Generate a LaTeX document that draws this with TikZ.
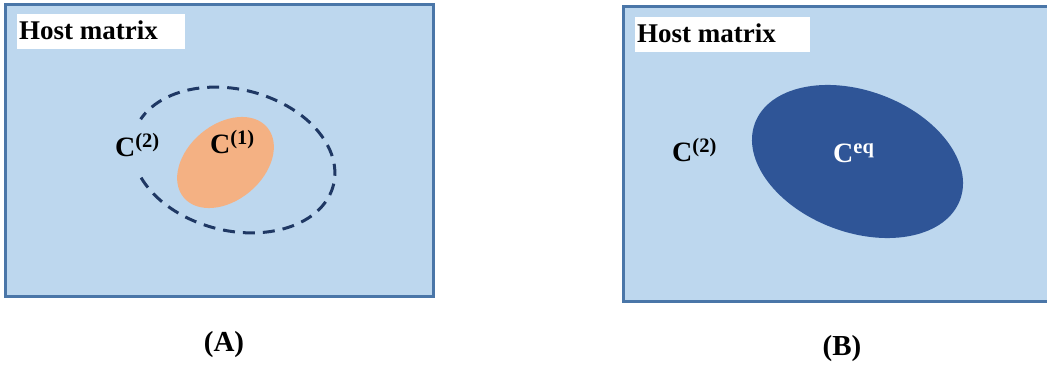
\documentclass[tikz,border=0pt]{standalone}
\usepackage{fontspec}
\setmainfont{Liberation Serif}
\definecolor{panelfill}{RGB}{189,215,238}
\definecolor{panelborder}{RGB}{74,118,168}
\definecolor{incl}{RGB}{244,177,131}
\definecolor{eqblue}{RGB}{47,85,151}
\definecolor{dashnavy}{RGB}{31,56,100}
\newcommand\csuplabel[1]{{\fontsize{28}{28}\selectfont C}\raisebox{9pt}{\fontsize{20.5}{20.5}\selectfont #1}}
\tikzset{
  panel/.style={fill=panelfill, draw=panelborder, line width=3pt},
  hostbox/.style={fill=white, draw=none},
  hosttext/.style={font=\fontsize{27}{27}\selectfont\bfseries, inner sep=0pt, anchor=base west},
  clabel/.style={font=\bfseries, inner sep=0pt, anchor=base west},
  caption/.style={font=\fontsize{29}{29}\selectfont\bfseries, inner sep=0pt, anchor=base},
}
\begin{document}
\begin{tikzpicture}[x=1pt,y=1pt]
\useasboundingbox (0,0) rectangle (1047,366);
\clip (0,0) rectangle (1047,366);
% panel A
\draw[panel] (5,69) rectangle (433,361);
\fill[hostbox] (17,317) rectangle (185,352);
\node[hosttext] (hostA) at (19,326) {Host matrix};
\begin{scope}[shift={(233.5,206)}, rotate=-14]
  \draw[dashnavy, line width=3pt, dash pattern=on 12pt off 8pt]
    (214:103 and 70.6) arc[start angle=214, end angle=526, x radius=103, y radius=70.6];
\end{scope}
\fill[incl, rotate around={40:(225.5,203.5)}] (225.5,203.5) ellipse[x radius=54.5, y radius=38];
\node[clabel] (c2A) at (115,209) {\csuplabel{(2)}};
\node[clabel] (c1A) at (210,212) {\csuplabel{(1)}};
\node[caption] (capA) at (224,14) {(A)};
% panel B
\draw[panel] (623,64) rectangle (1060,359);
\fill[hostbox] (635,314) rectangle (810,349);
\node[hosttext] (hostB) at (637,323) {Host matrix};
\fill[eqblue, rotate around={-20.5:(857.5,204.5)}] (857.5,204.5) ellipse[x radius=109.5, y radius=70.7];
\node[clabel] (c2B) at (672,204) {\csuplabel{(2)}};
\node[clabel, text=white] (ceqB) at (833,203) {\csuplabel{eq}};
\node[caption] (capB) at (842,10) {(B)};
\end{tikzpicture}
\end{document}
